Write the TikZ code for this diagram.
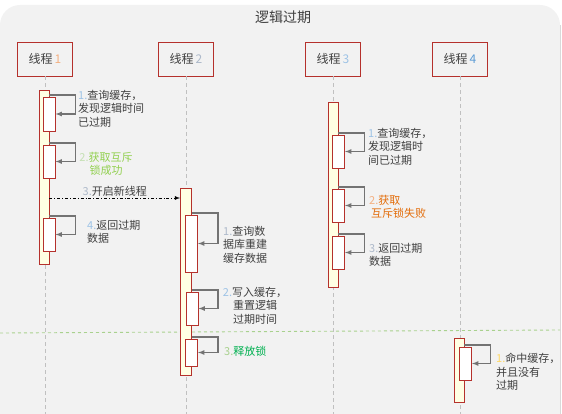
\documentclass[tikz,border=0pt]{standalone}
\usepackage{fontspec}
\newfontfamily\cjkfont{Noto Sans CJK SC}
\definecolor{panel}{HTML}{F2F2F2}
\definecolor{panelline}{HTML}{D9D9D9}
\definecolor{boxred}{HTML}{B5312C}
\definecolor{actfill}{HTML}{FFFFE3}
\definecolor{txt}{HTML}{404040}
\definecolor{lifegray}{HTML}{C0C0C0}
\definecolor{loopgray}{HTML}{737373}
\definecolor{okgreen}{HTML}{92D050}
\definecolor{freegreen}{HTML}{00B050}
\definecolor{failorange}{HTML}{E36C09}
\definecolor{sepgreen}{HTML}{A9D18E}
\definecolor{numblue}{HTML}{9DC3E6}
\definecolor{numgrey}{HTML}{ADB9CA}
\definecolor{numtan}{HTML}{F4B183}
\definecolor{numgreen}{HTML}{C5E0B4}
\definecolor{numyellow}{HTML}{FFD966}
\definecolor{numdeep}{HTML}{5B9BD5}
\begin{document}
\begin{tikzpicture}[>=latex, x=1pt, y=-1pt,
    thread/.style={draw=boxred, fill=panel, line width=0.9pt, minimum width=55pt,
      minimum height=34pt, font=\cjkfont\fontsize{12}{14}\selectfont, text=txt},
    act/.style={draw=boxred, fill=actfill, line width=0.9pt, minimum width=10pt, inner sep=0pt},
    sub/.style={draw=boxred, fill=white, line width=0.9pt, minimum width=12pt, inner sep=0pt},
    lifeline/.style={draw=lifegray, line width=0.8pt, dash pattern=on 4pt off 3pt},
    selfcall/.style={draw=loopgray, line width=1.2pt, ->},
    note/.style={font=\cjkfont\fontsize{11}{13.5}\selectfont, text=txt, inner sep=0pt, align=left}]
    \useasboundingbox (0,0) rectangle (562,414);
    \fill[panel, rounded corners=20pt] (0,430) -- (0,5) -- (560,5) -- (560,430);
    \draw[panelline, line width=0.8pt] (560,25) -- (560,414);
    \node[font=\cjkfont\fontsize{14}{16}\selectfont, text=txt] (title) at (283,17) {逻辑过期};

    % threads
    \node[thread] (t1) at (45,59) {线程\,{\color{numtan}1}};
    \node[thread] (t2) at (186,59) {线程\,{\color{numgrey}2}};
    \node[thread] (t3) at (333,59) {线程\,{\color{numblue}3}};
    \node[thread] (t4) at (460,59) {线程\,{\color{numdeep}4}};
    \foreach \t in {t1,t2,t3,t4}
        \draw[lifeline] (\t.south) -- (\t.south |- 0,414);

    \draw[sepgreen, line width=0.9pt, dashed] (0,333) -- (560,330);

    % activations
    \node[act, minimum height=174pt] (a1) at (44,177) {};
    \node[act, minimum height=187pt, minimum width=11pt] (a2) at (186,281.5) {};
    \node[act, minimum height=185pt] (a3) at (333,194.5) {};
    \node[act, minimum height=64pt] (a4) at (459,370) {};

    \node[sub, minimum height=34pt] (s11) at (49,114) {};
    \node[sub, minimum height=33pt] (s12) at (49,161.5) {};
    \node[sub, minimum height=33pt] (s13) at (49,234.5) {};
    \node[sub, minimum height=57pt] (s21) at (191.5,243.5) {};
    \node[sub, minimum height=33pt] (s22) at (192,308.5) {};
    \node[sub, minimum height=27pt] (s23) at (191.5,352.5) {};
    \node[sub, minimum height=33pt] (s31) at (338.5,151.5) {};
    \node[sub, minimum height=33pt] (s32) at (338.5,205.5) {};
    \node[sub, minimum height=33pt] (s33) at (338.5,252.5) {};
    \node[sub, minimum height=33pt] (s41) at (465.5,363.5) {};

    \foreach \a/\s in {a1/s11,a1/s12,a1/s13,a2/s21,a2/s22,a2/s23,a3/s31,a3/s32,a3/s33,a4/s41}
        \draw[selfcall] ([yshift=1.5pt]\s.north -| \a.east) -- ++(26,0) |- (\s.east);

    % new thread
    \coordinate (c3) at (0,198);
    \draw[->, line width=0.8pt, dash dot] (a1.east |- c3) -- (a2.west |- c3)
        node[midway, above=1pt, note] (l13) {{\color{numgrey}3.}开启新线程};

    % notes
    \node[note, anchor=north west] (l11) at (78,90) {{\color{numblue}1.}查询缓存，\\发现逻辑时间\\已过期};
    \node[note, anchor=north, align=center, text=okgreen] (l12) at (106,152) {{\color{numgreen}2.}获取互斥\\锁成功};
    \node[note, anchor=north west] (l14) at (87,220) {{\color{numblue}4.}返回过期\\数据};
    \node[note, anchor=north west] (l21) at (223,226) {{\color{numgrey}1.}查询数\\据库重建\\缓存数据};
    \node[note, anchor=north, align=center] (l22) at (255,287) {{\color{numblue}2.}写入缓存，\\重置逻辑\\过期时间};
    \node[note, anchor=west, text=freegreen] (l23) at (224,351) {{\color{sepgreen}3.}释放锁};
    \node[note, anchor=north west] (l31) at (368,128) {{\color{numblue}1.}查询缓存，\\发现逻辑时\\间已过期};
    \node[note, anchor=north west, text=failorange] (l32) at (369,195) {{\color{numtan}2.}获取\\\,互斥锁失败};
    \node[note, anchor=north west] (l33) at (369,243) {{\color{numgrey}3.}返回过期\\数据};
    \node[note, anchor=north west] (l41) at (496,353) {{\color{numyellow}1.}命中缓存，\\并且没有\\过期};
\end{tikzpicture}
\end{document}
